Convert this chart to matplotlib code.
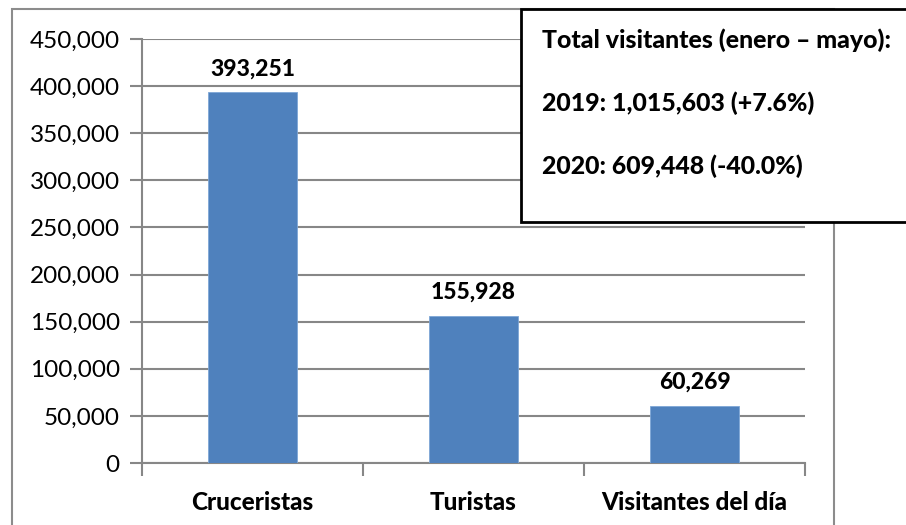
import matplotlib.pyplot as plt
from matplotlib.patches import Rectangle
from matplotlib.ticker import FuncFormatter, MultipleLocator

categories = ['Cruceristas', 'Turistas', 'Visitantes del día']
visitors = [393251, 155928, 60269]
box_lines = ['Total visitantes (enero – mayo):',
             '2019: 1,015,603 (+7.6%)',
             '2020: 609,448 (-40.0%)']

plt.rcParams['font.family'] = ['Lato', 'DejaVu Sans']

W, H = 906, 525
fig = plt.figure(figsize=(W / 100, H / 100), dpi=100)

# outer chart frame
fig.patches.append(Rectangle((12 / W, -0.01), (834 - 12) / W, 1 - 9 / H + 0.01,
                             transform=fig.transFigure, fill=False,
                             edgecolor='#8c8c8c', linewidth=1.5))

ax = fig.add_axes([142 / W, 1 - 463 / H, (805 - 142) / W, (463 - 39) / H])
x = range(len(categories))
ax.bar(x, visitors, width=0.4, color='#4f81bd', edgecolor='#7ea6d6',
       linewidth=0.6, zorder=3)
for i, v in zip(x, visitors):
    ax.text(i, v + 14000, '{:,}'.format(v), ha='center', va='bottom',
            fontsize=16.5, fontweight='black', color='black')

ax.set_xlim(-0.5, len(categories) - 0.5)
ax.set_ylim(0, 450000)
ax.yaxis.set_major_locator(MultipleLocator(50000))
ax.yaxis.set_major_formatter(FuncFormatter(lambda v, p: '{:,.0f}'.format(v)))
ax.grid(axis='y', color='#878787', linewidth=1.5, zorder=0)

ax.set_xticks([i - 0.5 for i in range(len(categories) + 1)], minor=False)
ax.set_xticklabels([])
ax.set_xticks(list(x), minor=True)
ax.set_xticklabels(categories, minor=True, fontsize=17.5, fontweight='black')
ax.tick_params(axis='x', which='major', length=9, width=1.5, color='#878787')
ax.tick_params(axis='x', which='minor', length=0, pad=20)
ax.tick_params(axis='y', length=9, width=1.5, color='#878787',
               labelsize=17.5, pad=7)

for s in ['top', 'right']:
    ax.spines[s].set_visible(False)
for s in ['left', 'bottom']:
    ax.spines[s].set_color('#878787')
    ax.spines[s].set_linewidth(1.5)

# summary box
fig.patches.append(Rectangle((521 / W, 1 - 222 / H), (W - 521) / W + 0.01, (222 - 9) / H,
                             transform=fig.transFigure, facecolor='white',
                             edgecolor='black', linewidth=2, zorder=5))
for k, line in enumerate(box_lines):
    fig.text(542 / W, 1 - (40 + 63 * k) / H, line, ha='left', va='center',
             fontsize=17.9, fontweight='black', zorder=6)

fig.savefig('out.png', dpi=100)
